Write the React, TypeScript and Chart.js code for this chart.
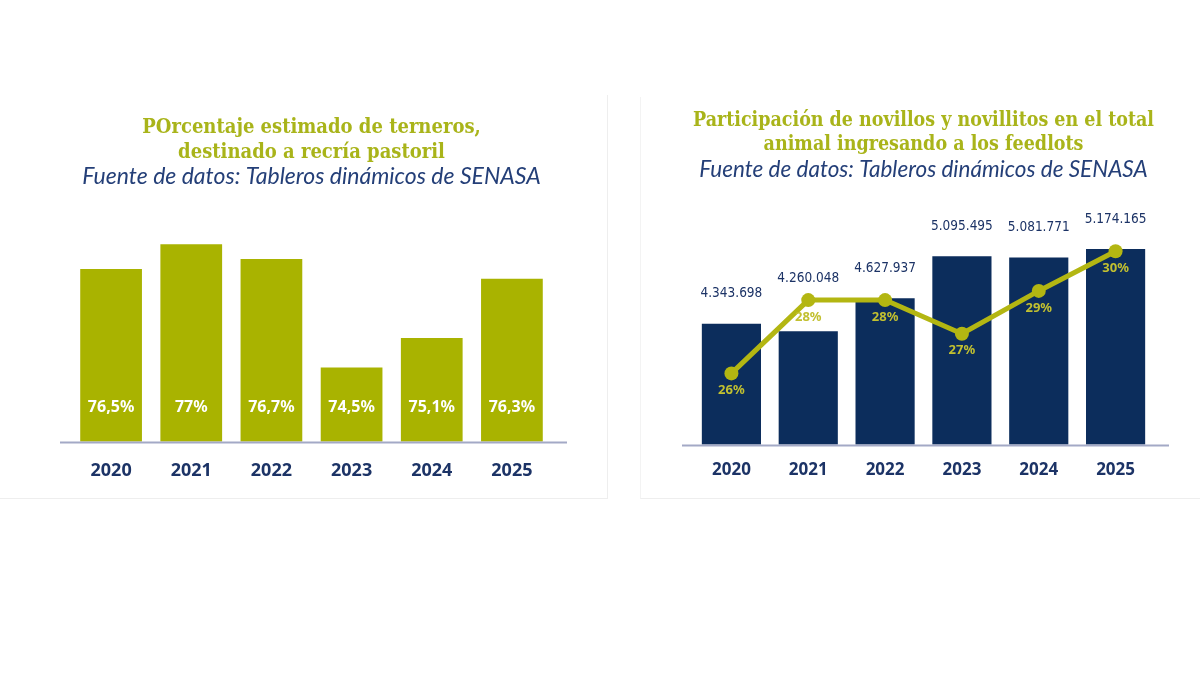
import React, { useEffect, useRef } from 'react';
import { Chart, registerables } from 'chart.js';

Chart.register(...registerables);

// ---- data ----
const years = ['2020', '2021', '2022', '2023', '2024', '2025'];
const recriaPct = [76.5, 77, 76.7, 74.5, 75.1, 76.3];
const feedlotHead = [4343698, 4260048, 4627937, 5095495, 5081771, 5174165];
const novillosPct = [26.0, 28.4, 28.4, 27.3, 28.7, 30.0];

const OLIVE = '#a9b300';
const LINE_OLIVE = '#b3b612';
const NAVY = '#0c2d5c';
const TEXT_NAVY = '#1c3366';
const AXIS_GREY = '#a3a9c6';
const TITLE_FONT = '"DejaVu Serif Condensed", "DejaVu Serif", serif';
const SUB_FONT = 'Lato, "Open Sans", sans-serif';
const NUM_FONT = '"Noto Sans", sans-serif';
const NARROW_FONT = '"DejaVu Sans Condensed", "Noto Sans", sans-serif';

const fmtThousands = (v: number) => String(v).replace(/\B(?=(\d{3})+(?!\d))/g, '.');
const fmtPct = (v: number) => String(v).replace('.', ',') + '%';

// baseline a bit wider than the plot area
const baseline = {
  id: 'baseline',
  afterDatasetsDraw(chart) {
    const { ctx, chartArea } = chart;
    ctx.save();
    ctx.strokeStyle = AXIS_GREY;
    ctx.lineWidth = 2;
    ctx.beginPath();
    ctx.moveTo(chartArea.left - 11, chartArea.bottom + 1);
    ctx.lineTo(chartArea.right + 15, chartArea.bottom + 1);
    ctx.stroke();
    ctx.restore();
  },
};

const recriaLabels = {
  id: 'recriaLabels',
  afterDatasetsDraw(chart) {
    const { ctx, chartArea } = chart;
    const meta = chart.getDatasetMeta(0);
    ctx.save();
    ctx.fillStyle = '#ffffff';
    ctx.font = `bold 16px ${NUM_FONT}`;
    ctx.textAlign = 'center';
    ctx.textBaseline = 'middle';
    meta.data.forEach((bar, i) => {
      ctx.fillText(fmtPct(recriaPct[i]), bar.x, chartArea.bottom - 34);
    });
    ctx.restore();
  },
};

const feedlotLabels = {
  id: 'feedlotLabels',
  afterDatasetsDraw(chart) {
    const { ctx } = chart;
    const bars = chart.getDatasetMeta(0).data;
    const points = chart.getDatasetMeta(1).data;
    ctx.save();
    ctx.textAlign = 'center';
    ctx.textBaseline = 'middle';
    bars.forEach((bar, i) => {
      const p = points[i];
      const y = Math.min(bar.y - 30, p.y - 22);
      ctx.font = `13.5px ${NARROW_FONT}`;
      ctx.fillStyle = TEXT_NAVY;
      ctx.fillText(fmtThousands(feedlotHead[i]), bar.x, y);
      ctx.font = `bold 13px ${NUM_FONT}`;
      ctx.fillStyle = '#c2c030';
      ctx.fillText(Math.round(novillosPct[i]) + '%', p.x, p.y + 17);
    });
    ctx.restore();
  },
};

const xAxis = (size: number, padding: number) => ({
  grid: { display: false },
  border: { display: false },
  ticks: {
    color: TEXT_NAVY,
    padding,
    font: { family: NUM_FONT, size, weight: 'bold' },
  },
});

const RecriaChart = () => {
  const canvasRef = useRef(null);

  useEffect(() => {
    const chart = new Chart(canvasRef.current, {
      type: 'bar',
      data: {
        labels: years,
        datasets: [
          {
            data: recriaPct,
            backgroundColor: OLIVE,
            barPercentage: 0.77,
            categoryPercentage: 1,
          },
        ],
      },
      options: {
        animation: false,
        responsive: true,
        maintainAspectRatio: false,
        layout: { padding: { left: 71, right: 55, top: 0, bottom: 5 } },
        plugins: {
          legend: { display: false },
          tooltip: { enabled: false },
          title: {
            display: true,
            text: ['POrcentaje estimado de terneros,', 'destinado a recría pastoril'],
            color: '#a9b41a',
            font: { family: TITLE_FONT, size: 20, weight: 'bold', lineHeight: 1.25 },
            padding: { top: 20, bottom: 0 },
          },
          subtitle: {
            display: true,
            text: 'Fuente de datos: Tableros dinámicos de SENASA',
            color: '#243f78',
            font: { family: SUB_FONT, size: 23, style: 'italic', lineHeight: 1.0 },
            padding: { top: 0, bottom: 7 },
          },
        },
        scales: {
          x: xAxis(18, 11),
          y: { display: false, min: 73, max: 78 },
        },
      },
      plugins: [baseline, recriaLabels],
    });
    return () => chart.destroy();
  }, []);

  return (
    <div style={{ position: 'absolute', left: 0, top: 95, width: 608, height: 404, borderRight: '1px solid #eeeeee', borderBottom: '1px solid #eeeeee', boxSizing: 'border-box' }}>
      <canvas ref={canvasRef}></canvas>
    </div>
  );
};

const FeedlotChart = () => {
  const canvasRef = useRef(null);

  useEffect(() => {
    const chart = new Chart(canvasRef.current, {
      data: {
        labels: years,
        datasets: [
          {
            type: 'bar',
            data: feedlotHead,
            backgroundColor: NAVY,
            barPercentage: 0.77,
            categoryPercentage: 1,
            yAxisID: 'y',
            order: 1,
          },
          {
            type: 'line',
            data: novillosPct,
            borderColor: LINE_OLIVE,
            backgroundColor: LINE_OLIVE,
            borderWidth: 5,
            pointRadius: 7,
            pointBorderWidth: 0,
            tension: 0,
            yAxisID: 'y1',
            order: 0,
          },
        ],
      },
      options: {
        animation: false,
        responsive: true,
        maintainAspectRatio: false,
        layout: { padding: { left: 52, right: 46, top: 0, bottom: 11 } },
        plugins: {
          legend: { display: false },
          tooltip: { enabled: false },
          title: {
            display: true,
            text: ['Participación de novillos y novillitos en el total', 'animal ingresando a los feedlots'],
            color: '#a9b41a',
            font: { family: TITLE_FONT, size: 19.5, weight: 'bold', lineHeight: 1.23 },
            padding: { top: 11.5, bottom: 0 },
          },
          subtitle: {
            display: true,
            text: 'Fuente de datos: Tableros dinámicos de SENASA',
            color: '#243f78',
            font: { family: SUB_FONT, size: 22.5, style: 'italic', lineHeight: 1.0 },
            padding: { top: 1.75, bottom: 14.25 },
          },
        },
        scales: {
          x: xAxis(17, 7),
          y: { display: false, min: 3000000, max: 5776000 },
          y1: { display: false, min: 23.67, max: 31.84 },
        },
      },
      plugins: [baseline, feedlotLabels],
    });
    return () => chart.destroy();
  }, []);

  return (
    <div style={{ position: 'absolute', left: 640, top: 97, width: 560, height: 402, borderLeft: '1px solid #f3f3f3', borderBottom: '1px solid #eeeeee', boxSizing: 'border-box' }}>
      <canvas ref={canvasRef}></canvas>
    </div>
  );
};

export default function App() {
  return (
    <div style={{ position: 'fixed', left: 0, top: 0, width: 1200, height: 675, background: '#ffffff' }}>
      <RecriaChart />
      <FeedlotChart />
    </div>
  );
}
